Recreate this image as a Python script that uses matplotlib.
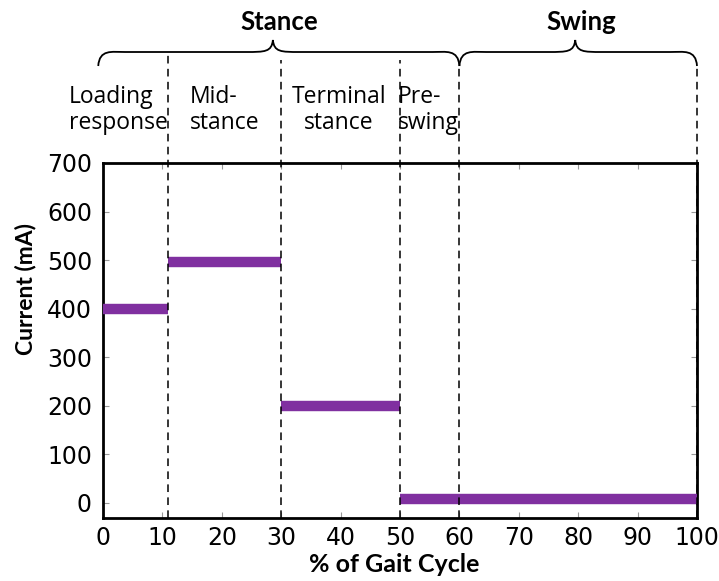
import matplotlib
matplotlib.use("Agg")
import matplotlib.pyplot as plt
from matplotlib.path import Path
from matplotlib.patches import PathPatch
from matplotlib.transforms import blended_transform_factory

# step levels of the stimulation current
seg_start = [0, 11, 30, 50]
seg_end = [11, 30, 50, 100]
current = [400, 497, 200, 8]

# phase boundaries (dashed lines)
bounds = [11, 30, 50, 60, 100]
phase_labels = ["Loading\nresponse", "Mid-\nstance", "Terminal\nstance", "Pre-\nswing"]
phase_x = [-5.8, 14.6, 31.7, 49.6]
phase_ma = ["left", "left", "center", "left"]

# braces: (start, end, tip, label)
braces = [(-0.8, 60, 28.6, "Stance"), (60, 100, 79.5, "Swing")]

PURPLE = "#8030A0"
W, H = 719, 581


def fy(py):
    return 1 - py / H


fig = plt.figure(figsize=(W / 100, H / 100), dpi=100)
ax = fig.add_axes([103 / W, 1 - 518 / H, 594 / W, 355 / H])

for x0, x1, y in zip(seg_start, seg_end, current):
    ax.plot([x0, x1], [y, y], color=PURPLE, lw=7.5, solid_capstyle="butt", zorder=3)

ax.set_xlim(0, 100)
ax.set_ylim(-31, 700)
ax.set_xticks(range(0, 101, 10))
ax.set_yticks(range(0, 701, 100))
ax.tick_params(direction="in", length=4, color="#999999", top=True, right=True,
               labelsize=17)
ax.tick_params(axis="x", pad=6)
ax.tick_params(axis="y", pad=8)
for lab in ax.get_xticklabels() + ax.get_yticklabels():
    lab.set_family(["Liberation Sans Narrow", "DejaVu Sans"])
for s in ax.spines.values():
    s.set_linewidth(2)

fig.text(394 / W, fy(564), "% of Gait Cycle", fontsize=18, fontweight="bold",
         family="Lato", ha="center", va="center")
fig.text(25 / W, fy(289), "Current (mA)", fontsize=16.5, fontweight="bold",
         family="Lato", ha="center", va="center", rotation=90)

tr = blended_transform_factory(ax.transData, fig.transFigure)
tops = [55, 60, 60, 63, 66]
for b, t in zip(bounds, tops):
    ax.plot([b, b], [fy(518), fy(t)], transform=tr, color="black", lw=1.1,
            ls=(0, (5, 3.5)), clip_on=False, zorder=4)

for x, lab, ma in zip(phase_x, phase_labels, phase_ma):
    ax.text(x, fy(110), lab, transform=tr, fontsize=16.5, family="Open Sans",
            ha="left", va="center", ma=ma, linespacing=1.15)

for x0, x1, xm, lab in braces:
    ye, yb, yt = fy(66), fy(52), fy(40)
    k = 4.5
    verts = [(x0, ye), (x0 + 0.2, yb + 0.005), (x0 + k * 0.5, yb), (x0 + k, yb),
             (xm - k, yb),
             (xm - k * 0.3, yb), (xm - 0.2, yb), (xm, yt),
             (xm + 0.2, yb), (xm + k * 0.3, yb), (xm + k, yb),
             (x1 - k, yb),
             (x1 - k * 0.5, yb), (x1 - 0.2, yb + 0.005), (x1, ye)]
    codes = [Path.MOVETO, Path.CURVE4, Path.CURVE4, Path.CURVE4,
             Path.LINETO,
             Path.CURVE4, Path.CURVE4, Path.CURVE4,
             Path.CURVE4, Path.CURVE4, Path.CURVE4,
             Path.LINETO,
             Path.CURVE4, Path.CURVE4, Path.CURVE4]
    ax.add_patch(PathPatch(Path(verts, codes), transform=tr, fill=False, lw=1.3,
                           edgecolor="black", clip_on=False))
    ax.text(xm + 1, fy(22), lab, transform=tr, ha="center", va="center", fontsize=18.5,
            fontweight="bold", family="Lato")

fig.savefig("out.png", dpi=100)
